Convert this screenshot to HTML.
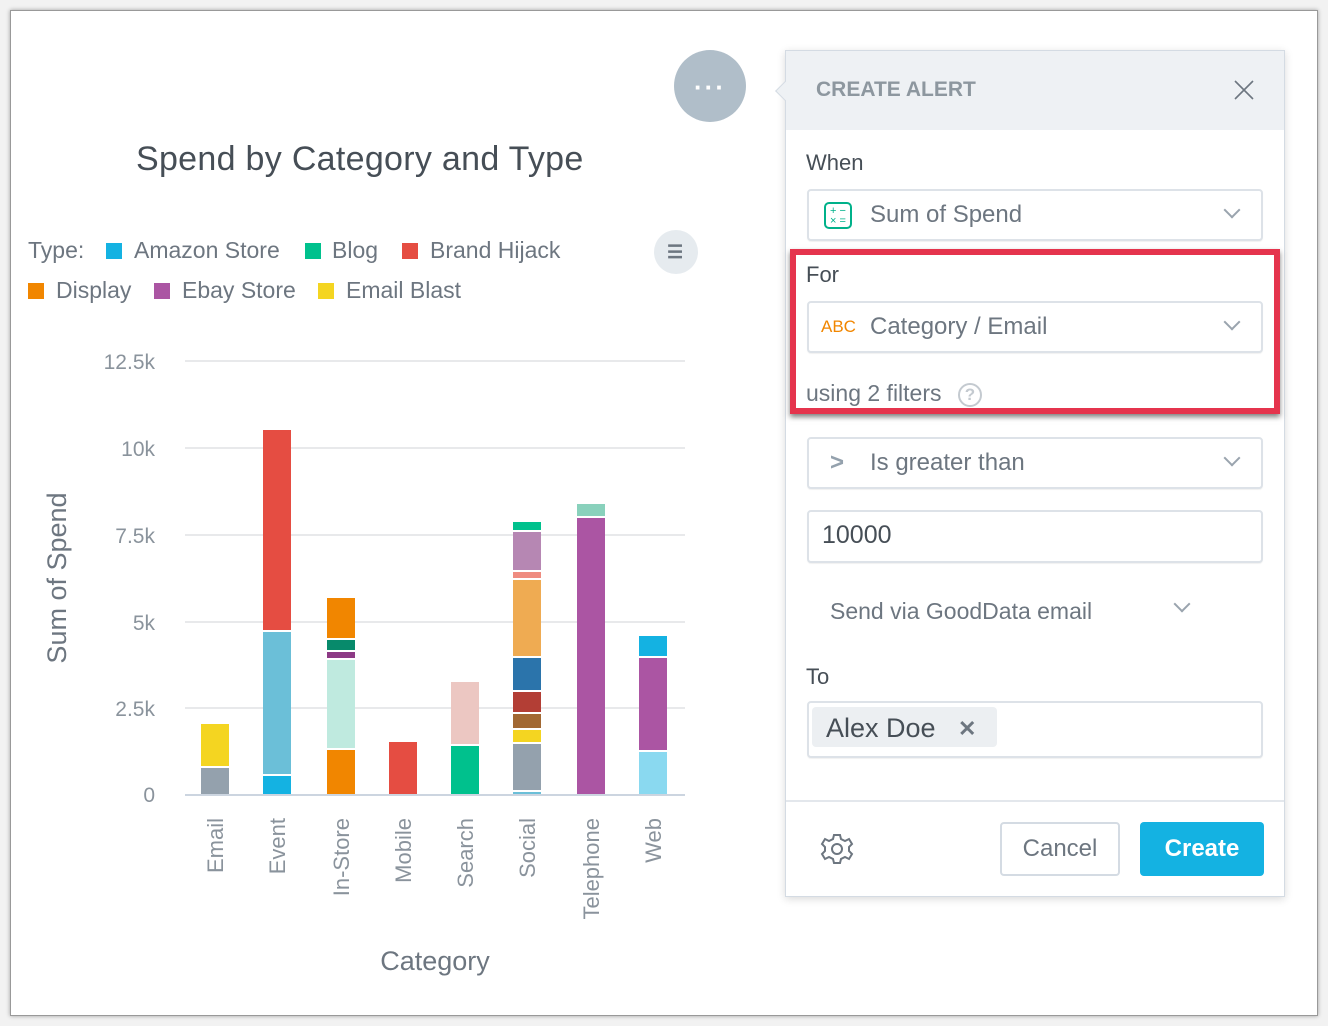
<!DOCTYPE html>
<html><head><meta charset="utf-8"><style>
*{margin:0;padding:0;box-sizing:border-box}
body{width:1328px;height:1026px;background:#f2f2f2;position:relative;overflow:hidden;font-family:"Liberation Sans",sans-serif;color:#464e56}
.frame{position:absolute;left:10px;top:10px;width:1308px;height:1006px;background:#fff;border:1px solid #999;box-shadow:0 0 4px rgba(0,0,0,.35)}
.a{position:absolute;white-space:nowrap}
.sq{position:absolute;width:16px;height:16px}
.box{position:absolute;left:807px;width:456px;border:2px solid #dde2e8;border-radius:4px;background:#fff;box-shadow:0 1px 1px rgba(0,0,0,.06)}
.chev{position:absolute;width:12px;height:12px;border-right:2.5px solid #9aa4ae;border-bottom:2.5px solid #9aa4ae;transform:rotate(45deg)}
</style></head><body>
<div class="frame"></div>
<div class="a" style="left:674px;top:50px;width:72px;height:72px;border-radius:50%;background:#b0bec9"></div>
<div class="a" style="left:694px;top:72px;color:#fff;font-size:26px;font-weight:bold;letter-spacing:2px">···</div>
<div class="a" style="left:136px;top:140px;font-size:34px;color:#464e56;letter-spacing:0.3px">Spend by Category and Type</div>
<div class="a" style="left:28px;top:237px;font-size:23px;color:#6d7680">Type:</div>
<div class="sq" style="left:106px;top:243px;background:#14b2e2"></div><div class="a" style="left:134px;top:237px;font-size:23px;color:#6d7680">Amazon Store</div>
<div class="sq" style="left:305px;top:243px;background:#00c18d"></div><div class="a" style="left:332px;top:237px;font-size:23px;color:#6d7680">Blog</div>
<div class="sq" style="left:402px;top:243px;background:#e54d42"></div><div class="a" style="left:430px;top:237px;font-size:23px;color:#6d7680">Brand Hijack</div>
<div class="sq" style="left:28px;top:283px;background:#f18600"></div><div class="a" style="left:56px;top:277px;font-size:23px;color:#6d7680">Display</div>
<div class="sq" style="left:154px;top:283px;background:#ab55a3"></div><div class="a" style="left:182px;top:277px;font-size:23px;color:#6d7680">Ebay Store</div>
<div class="sq" style="left:318px;top:283px;background:#f4d521"></div><div class="a" style="left:346px;top:277px;font-size:23px;color:#6d7680">Email Blast</div>
<div class="a" style="left:654px;top:230px;width:44px;height:44px;border-radius:50%;background:#e6ebef"></div>
<div class="a" style="left:667px;top:242px;font-size:18px;color:#6d7680;font-weight:bold">☰</div>
<svg class="a" style="left:0;top:0" width="780" height="1000" font-family="Liberation Sans, sans-serif">
<g stroke="#e8e9eb" stroke-width="2"><line x1="185" x2="685" y1="361" y2="361"/><line x1="185" x2="685" y1="448" y2="448"/><line x1="185" x2="685" y1="535" y2="535"/><line x1="185" x2="685" y1="622" y2="622"/><line x1="185" x2="685" y1="708" y2="708"/></g>
<line x1="185" x2="685" y1="795" y2="795" stroke="#ccd5e0" stroke-width="2"/>
<g font-size="21" fill="#8a939c" text-anchor="end"><text x="155" y="369">12.5k</text><text x="155" y="456">10k</text><text x="155" y="543">7.5k</text><text x="155" y="630">5k</text><text x="155" y="716">2.5k</text><text x="155" y="802">0</text></g>
<text transform="translate(66,578) rotate(-90)" font-size="27" fill="#6d7680" text-anchor="middle">Sum of Spend</text>
<text x="435" y="970" font-size="27" fill="#6d7680" text-anchor="middle">Category</text>
<g font-size="22" fill="#8a939c" text-anchor="end">
<text transform="translate(223,818) rotate(-90)">Email</text>
<text transform="translate(285,818) rotate(-90)">Event</text>
<text transform="translate(349,818) rotate(-90)">In-Store</text>
<text transform="translate(411,818) rotate(-90)">Mobile</text>
<text transform="translate(473,818) rotate(-90)">Search</text>
<text transform="translate(535,818) rotate(-90)">Social</text>
<text transform="translate(599,818) rotate(-90)">Telephone</text>
<text transform="translate(661,818) rotate(-90)">Web</text>
</g>
<g>
<rect x="201" y="768" width="28" height="26" fill="#94a1ad"/><rect x="201" y="724" width="28" height="42" fill="#f4d521"/>
<rect x="263" y="776" width="28" height="18" fill="#14b2e2"/><rect x="263" y="632" width="28" height="142" fill="#6bbfd8"/><rect x="263" y="430" width="28" height="200" fill="#e54d42"/>
<rect x="327" y="750" width="28" height="44" fill="#f18600"/><rect x="327" y="660" width="28" height="88" fill="#bfeadf"/><rect x="327" y="652" width="28" height="6" fill="#8d3a85"/><rect x="327" y="640" width="28" height="10" fill="#078a6b"/><rect x="327" y="598" width="28" height="40" fill="#f18600"/>
<rect x="389" y="742" width="28" height="52" fill="#e54d42"/>
<rect x="451" y="746" width="28" height="48" fill="#00c18d"/><rect x="451" y="682" width="28" height="62" fill="#ecc7c2"/>
<rect x="513" y="792" width="28" height="2" fill="#6bbfd8"/><rect x="513" y="744" width="28" height="46" fill="#94a1ad"/><rect x="513" y="730" width="28" height="12" fill="#f4d521"/><rect x="513" y="714" width="28" height="14" fill="#a26832"/><rect x="513" y="692" width="28" height="20" fill="#b33e35"/><rect x="513" y="658" width="28" height="32" fill="#2b74ab"/><rect x="513" y="580" width="28" height="76" fill="#efab52"/><rect x="513" y="572" width="28" height="6" fill="#ef8c80"/><rect x="513" y="532" width="28" height="38" fill="#b687b3"/><rect x="513" y="522" width="28" height="8" fill="#00c18d"/>
<rect x="577" y="518" width="28" height="276" fill="#ab55a3"/><rect x="577" y="504" width="28" height="12" fill="#89d1bc"/>
<rect x="639" y="752" width="28" height="42" fill="#8ad9f0"/><rect x="639" y="658" width="28" height="92" fill="#ab55a3"/><rect x="639" y="636" width="28" height="20" fill="#14b2e2"/>
</g>
</svg>
<!-- panel -->
<div class="a" style="left:785px;top:50px;width:500px;height:847px;background:#fff;border:1px solid #d4dbe3;box-shadow:0 2px 8px rgba(0,0,0,.15)"></div>
<div class="a" style="left:778px;top:84px;width:14px;height:14px;background:#eef1f4;border-left:1px solid #d4dbe3;border-bottom:1px solid #d4dbe3;transform:rotate(45deg)"></div>
<div class="a" style="left:786px;top:51px;width:498px;height:79px;background:#eef1f4"></div>
<div class="a" style="left:816px;top:78px;font-size:21px;font-weight:bold;color:#8d979f">CREATE ALERT</div>
<svg class="a" style="left:1234px;top:80px" width="20" height="20"><path d="M1 1L19 19M19 1L1 19" stroke="#6d7680" stroke-width="1.6"/></svg>
<div class="a" style="left:806px;top:150px;font-size:22px;color:#464e56">When</div>
<div class="box" style="top:189px;height:52px"></div>
<div class="a" style="left:824px;top:202px;width:28px;height:27px;border:2px solid #00b18a;border-radius:5px;color:#00b18a;font-size:11px;line-height:10px;padding:2px 0 0 4px">+ −<br>× =</div>
<div class="a" style="left:870px;top:201px;font-size:24px;color:#6d7680">Sum of Spend</div>
<div class="chev" style="left:1226px;top:204px"></div>
<div class="a" style="left:790px;top:249px;width:490px;height:165px;border:6px solid #e5344d;box-shadow:0 3px 5px rgba(0,0,0,.5)"></div>
<div class="a" style="left:806px;top:262px;font-size:22px;color:#464e56">For</div>
<div class="box" style="top:301px;height:52px"></div>
<div class="a" style="left:821px;top:317px;font-size:17px;color:#f18600">ABC</div>
<div class="a" style="left:870px;top:313px;font-size:24px;color:#6d7680">Category / Email</div>
<div class="chev" style="left:1226px;top:316px"></div>
<div class="a" style="left:806px;top:380px;font-size:23px;color:#6d7680">using 2 filters</div>
<div class="a" style="left:958px;top:383px;width:24px;height:24px;border:2px solid #c4cad0;border-radius:50%;color:#c4cad0;font-size:17px;text-align:center;line-height:20px;font-weight:bold">?</div>
<div class="box" style="top:437px;height:52px"></div>
<div class="a" style="left:830px;top:449px;font-size:24px;color:#94a1ad;font-weight:bold">&gt;</div>
<div class="a" style="left:870px;top:449px;font-size:24px;color:#6d7680">Is greater than</div>
<div class="chev" style="left:1226px;top:452px"></div>
<div class="box" style="top:510px;height:53px"></div>
<div class="a" style="left:822px;top:521px;font-size:25px;color:#464e56">10000</div>
<div class="a" style="left:830px;top:598px;font-size:23px;color:#6d7680">Send via GoodData email</div>
<div class="chev" style="left:1176px;top:598px"></div>
<div class="a" style="left:806px;top:664px;font-size:22px;color:#464e56">To</div>
<div class="box" style="top:701px;height:57px"></div>
<div class="a" style="left:812px;top:707px;width:185px;height:40px;background:#eceff2;border-radius:4px"></div>
<div class="a" style="left:826px;top:713px;font-size:27px;color:#464e56">Alex Doe</div>
<div class="a" style="left:958px;top:716px;font-size:22px;color:#6d7680;font-weight:bold">✕</div>
<div class="a" style="left:786px;top:800px;width:498px;height:2px;background:#e3e7ec"></div>
<svg class="a" style="left:820px;top:832px" width="34" height="34" viewBox="0 0 34 34"><g fill="none" stroke="#6d7680" stroke-width="2"><circle cx="17" cy="17" r="5"/><path d="M14 3h6l1 4 4 2 4-2 3 5-3 3v4l3 3-3 5-4-2-4 2-1 4h-6l-1-4-4-2-4 2-3-5 3-3v-4l-3-3 3-5 4 2 4-2z"/></g></svg>
<div class="a" style="left:1000px;top:822px;width:120px;height:54px;border:2px solid #d4dbe3;border-radius:4px;background:#fff;font-size:24px;color:#6d7680;text-align:center;line-height:50px">Cancel</div>
<div class="a" style="left:1140px;top:822px;width:124px;height:54px;border-radius:4px;background:#14b2e2;font-size:24px;font-weight:bold;color:#fff;text-align:center;line-height:54px">Create</div>
</body></html>
